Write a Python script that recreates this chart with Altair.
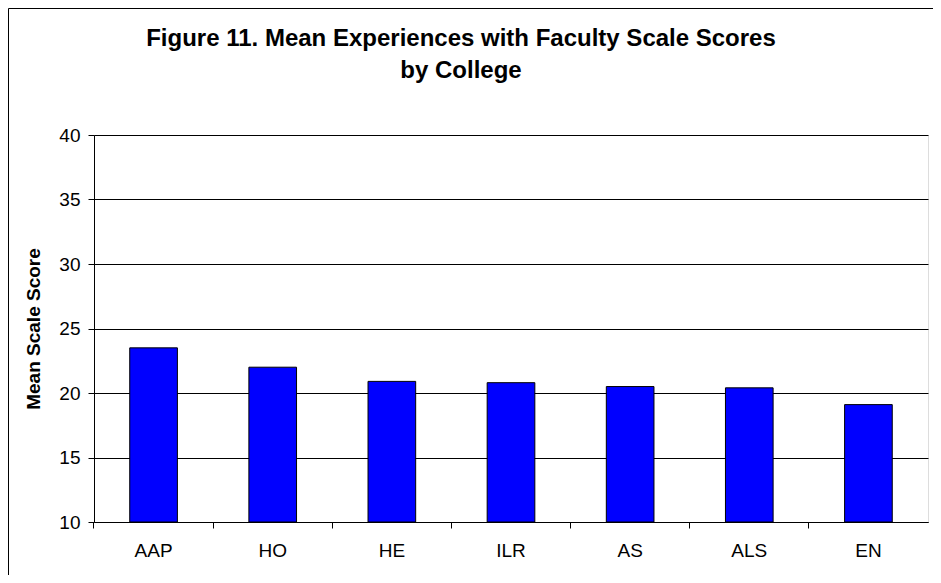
import altair as alt
import pandas as pd

colleges = ["AAP", "HO", "HE", "ILR", "AS", "ALS", "EN"]
scores = [23.5, 22.0, 20.9, 20.8, 20.5, 20.4, 19.1]
y_ticks = [10, 15, 20, 25, 30, 35, 40]

df = pd.DataFrame({"college": colleges, "score": scores})
FONT = "Arial, Liberation Sans, sans-serif"

bars = alt.Chart(df).mark_bar(
    color="#0000FF", stroke="#000000", strokeWidth=1
).encode(
    x=alt.X(
        "college:N",
        sort=colleges,
        title=None,
        scale=alt.Scale(paddingInner=0.6, paddingOuter=0.3),
        axis=alt.Axis(
            labelAngle=0, labelFontSize=19, labelFont=FONT, labelColor="#000000",
            tickSize=6, tickColor="#000000", domainColor="#000000",
            labelPadding=13, bandPosition=-0.75, grid=False,
        ),
    ),
    y=alt.Y(
        "score:Q",
        title="Mean Scale Score",
        scale=alt.Scale(domain=[10, 40], zero=False, nice=False),
        axis=alt.Axis(
            values=y_ticks, labelFontSize=19, labelFont=FONT, labelColor="#000000",
            tickSize=6, tickColor="#000000", domainColor="#000000",
            labelPadding=8, grid=True, gridColor="#000000", gridWidth=1,
            titleFontSize=19, titleFont=FONT, titleFontWeight="bold",
            titleColor="#000000", titlePadding=15,
        ),
    ),
    y2=alt.datum(10),
)

frame = alt.Chart(pd.DataFrame({"k": [0]})).mark_rect(
    fill="#ffffff", fillOpacity=0, stroke="#000000", strokeWidth=1, clip=False
).encode(
    x=alt.value(-85.5), x2=alt.value(1200),
    y=alt.value(-126.5), y2=alt.value(800),
)

chart = alt.layer(bars, frame).properties(
    width=834,
    height=387,
    autosize=alt.AutoSizeParams(type="none"),
    padding={"left": 86, "top": 127, "right": 5, "bottom": 53},
    title=alt.Title(
        ["Figure 11. Mean Experiences with Faculty Scale Scores", "by College"],
        fontSize=24, font=FONT, fontWeight="bold", color="#000000",
        lineHeight=32, anchor="middle", dx=-50, offset=-75,
    ),
).configure_view(
    stroke="#808080", strokeWidth=1, fill="#ffffff"
).configure(background="#ffffff")

chart.save("out.html", embed_options={"renderer": "svg", "actions": False})
